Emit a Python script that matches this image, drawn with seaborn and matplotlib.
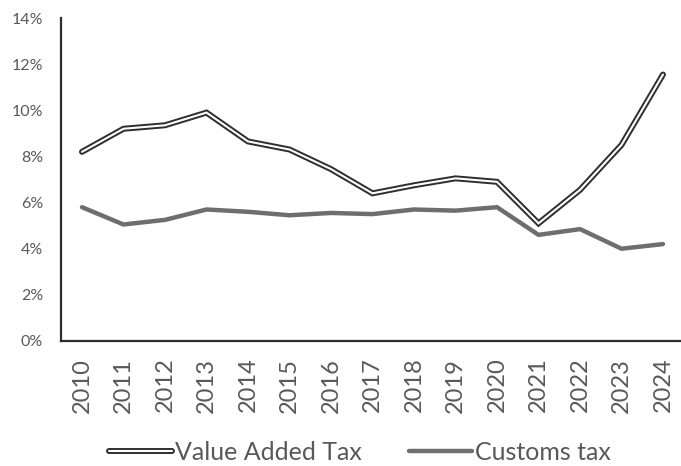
import matplotlib
matplotlib.use("Agg")
import matplotlib.pyplot as plt
from matplotlib.lines import Line2D
from matplotlib.legend_handler import HandlerTuple
from matplotlib.ticker import FuncFormatter
import pandas as pd
import seaborn as sns

# Tax revenue shares, percent
years = [2010, 2011, 2012, 2013, 2014, 2015, 2016, 2017, 2018, 2019, 2020, 2021, 2022, 2023, 2024]
vat = [8.2, 9.2, 9.35, 9.9, 8.65, 8.3, 7.45, 6.4, 6.75, 7.05, 6.9, 5.1, 6.55, 8.5, 11.55]
customs = [5.8, 5.05, 5.25, 5.7, 5.6, 5.45, 5.55, 5.5, 5.7, 5.65, 5.8, 4.6, 4.85, 4.0, 4.2]
y_ticks = [0, 2, 4, 6, 8, 10, 12, 14]
series_names = ["Value Added Tax", "Customs tax"]

df = pd.DataFrame({"year": years, "vat": vat, "customs": customs})

sns.set_theme(style="white")
plt.rcParams["font.family"] = ["Lato", "DejaVu Sans"]

TEXT = "#595959"
DARK = "#2e2e2e"
GREY = "#6e6e6e"
OUTER_W, INNER_W, CUSTOMS_W = 4.3, 1.5, 3.2

fig = plt.figure(figsize=(6.81, 4.66), dpi=100)
ax = fig.add_axes([61.25 / 681, 1 - 341 / 466, 622.5 / 681, (341 - 18) / 466])

# Double-stroke line: dark outline with a white core
sns.lineplot(data=df, x="year", y="vat", ax=ax, color=DARK, linewidth=OUTER_W,
             solid_joinstyle="miter", solid_capstyle="round", zorder=3)
sns.lineplot(data=df, x="year", y="vat", ax=ax, color="white", linewidth=INNER_W,
             solid_joinstyle="miter", solid_capstyle="round", zorder=4)
sns.lineplot(data=df, x="year", y="customs", ax=ax, color=GREY, linewidth=CUSTOMS_W,
             solid_joinstyle="round", solid_capstyle="round", zorder=3)

ax.set_xlim(years[0] - 0.5, years[-1] + 0.5)
ax.set_ylim(y_ticks[0], y_ticks[-1])
ax.set_xticks(years)
ax.set_xticklabels([str(y) for y in years], rotation=90)
ax.set_yticks(y_ticks)
ax.yaxis.set_major_formatter(FuncFormatter(lambda v, _: f"{v:.0f}%"))
ax.set_xlabel("")
ax.set_ylabel("")

ax.tick_params(axis="x", length=0, pad=12, labelsize=17, labelcolor=TEXT)
ax.tick_params(axis="y", length=0, pad=13, labelsize=11.5, labelcolor=TEXT)

for side in ("top", "right"):
    ax.spines[side].set_visible(False)
for side in ("left", "bottom"):
    ax.spines[side].set_color(DARK)
    ax.spines[side].set_linewidth(1.6)
ax.grid(False)

vat_handle = (Line2D([], [], color=DARK, linewidth=OUTER_W, solid_capstyle="round"),
              Line2D([], [], color="white", linewidth=INNER_W, solid_capstyle="round"))
customs_handle = Line2D([], [], color=GREY, linewidth=CUSTOMS_W)
leg = fig.legend([vat_handle, customs_handle], series_names,
                 handler_map={tuple: HandlerTuple(ndivide=1)},
                 loc="center", bbox_to_anchor=(360 / 681, 1 - 452 / 466),
                 ncol=2, frameon=False, fontsize=18, handlelength=2.5,
                 handletextpad=0.12, columnspacing=1.9, labelcolor=TEXT,
                 borderpad=0.0)

fig.savefig("out.png", dpi=100)
